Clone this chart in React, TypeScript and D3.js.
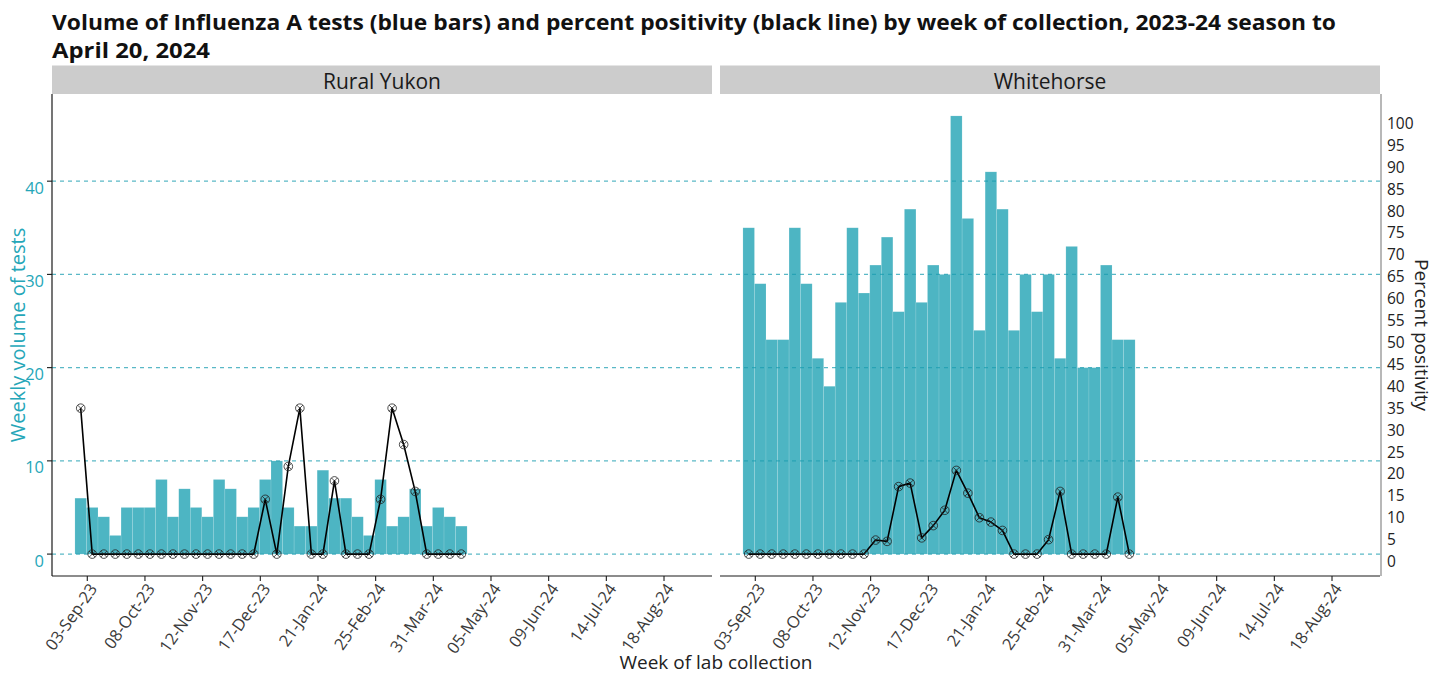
import React from "react";
import * as d3 from "d3";

// ---------- data ----------
const WEEKS = [
  "2023-08-30", "2023-09-06", "2023-09-13", "2023-09-20", "2023-09-27",
  "2023-10-04", "2023-10-11", "2023-10-18", "2023-10-25", "2023-11-01",
  "2023-11-08", "2023-11-15", "2023-11-22", "2023-11-29", "2023-12-06",
  "2023-12-13", "2023-12-20", "2023-12-27", "2024-01-03", "2024-01-10",
  "2024-01-17", "2024-01-24", "2024-01-31", "2024-02-07", "2024-02-14",
  "2024-02-21", "2024-02-28", "2024-03-06", "2024-03-13", "2024-03-20",
  "2024-03-27", "2024-04-03", "2024-04-10", "2024-04-17",
];

const RURAL_TESTS = [6, 5, 4, 2, 5, 5, 5, 8, 4, 7, 5, 4, 8, 7, 4, 5, 8, 10, 5, 3, 3, 9, 6, 6, 4, 2, 8, 3, 4, 7, 3, 5, 4, 3];
const RURAL_PCT = [33.3, 0, 0, 0, 0, 0, 0, 0, 0, 0, 0, 0, 0, 0, 0, 0, 12.5, 0, 20, 33.3, 0, 0, 16.7, 0, 0, 0, 12.5, 33.3, 25, 14.3, 0, 0, 0, 0];

const WH_TESTS = [35, 29, 23, 23, 35, 29, 21, 18, 27, 35, 28, 31, 34, 26, 37, 27, 31, 30, 47, 36, 24, 41, 37, 24, 30, 26, 30, 21, 33, 20, 20, 31, 23, 23];
const WH_PCT = [0, 0, 0, 0, 0, 0, 0, 0, 0, 0, 0, 3.2, 2.9, 15.4, 16.2, 3.7, 6.5, 10, 19.1, 13.9, 8.3, 7.3, 5.4, 0, 0, 0, 3.3, 14.3, 0, 0, 0, 0, 13.0, 0];

const PANELS = ["Rural Yukon", "Whitehorse"];
const X_TICKS = ["2023-09-03", "2023-10-08", "2023-11-12", "2023-12-17", "2024-01-21", "2024-02-25", "2024-03-31", "2024-05-05", "2024-06-09", "2024-07-14", "2024-08-18"];
const COUNT_TICKS = [0, 10, 20, 30, 40];
const PCT_TICKS = [0, 5, 10, 15, 20, 25, 30, 35, 40, 45, 50, 55, 60, 65, 70, 75, 80, 85, 90, 95, 100];
const MAX_COUNT = 47; // secondary axis: 100% maps to this count

const TITLE1 = "Volume of Influenza A tests (blue bars) and percent positivity (black line) by week of collection, 2023-24 season to";
const TITLE2 = "April 20, 2024";

// ---------- layout ----------
const W = 1447, H = 675;
const PANEL_X = [52, 720];
const PANEL_W = 660;
const TOP = 94, BOTTOM = 576;
const STRIP_TOP = 65.5;

const FONT = "'Open Sans', 'Noto Sans', sans-serif";
const BAR = "#4db5c3";
const TEAL = "#1a9db0";
const TEAL_TEXT = "#25a6b8";

const parse = d3.utcParse("%Y-%m-%d");
const fmt = d3.utcFormat("%d-%b-%y");
const DAY = 86400000;

const App: React.FC = () => {
  const weekDates = WEEKS.map((w) => parse(w)!);
  const tickDates = X_TICKS.map((t) => parse(t)!);
  const dom: [Date, Date] = [new Date(Date.UTC(2023, 7, 12, 14)), new Date(Date.UTC(2024, 8, 16, 3))];
  const y = d3.scaleLinear().domain([-0.05 * MAX_COUNT, MAX_COUNT * 1.05]).range([BOTTOM, TOP]);
  const pctToCount = (p: number) => (p * MAX_COUNT) / 100;

  const series = [
    { tests: RURAL_TESTS, pct: RURAL_PCT },
    { tests: WH_TESTS, pct: WH_PCT },
  ];

  return (
    <svg width={W} height={H} style={{ display: "block", position: "absolute", left: 0, top: 0 }}>
      <rect width={W} height={H} fill="#fff" />
      <text x={52} y={29.5} fontFamily={FONT} fontWeight={700} fontSize={21.5} fill="#111" textLength={1284} lengthAdjust="spacingAndGlyphs">{TITLE1}</text>
      <text x={52} y={58} fontFamily={FONT} fontWeight={700} fontSize={21.5} fill="#111" textLength={158} lengthAdjust="spacingAndGlyphs">{TITLE2}</text>

      {PANELS.map((name, pi) => {
        const x0 = PANEL_X[pi];
        const x = d3.scaleUtc().domain(dom).range([x0, x0 + PANEL_W]);
        const s = series[pi];
        const line = d3
          .line<number>()
          .x((_, i) => x(weekDates[i]))
          .y((p) => y(pctToCount(p)));
        return (
          <g key={name}>
            {/* strip */}
            <rect x={x0} y={STRIP_TOP} width={PANEL_W} height={TOP - STRIP_TOP} fill="#cccccc" />
            <text x={x0 + PANEL_W / 2} y={88.5} textAnchor="middle" fontFamily={FONT} fontSize={21} fill="#1a1a1a">{name}</text>
            {/* bars */}
            {s.tests.map((v, i) => {
              const xa = x(new Date(weekDates[i].getTime() - 3.5 * DAY));
              const xb = x(new Date(weekDates[i].getTime() + 3.5 * DAY));
              return (
                <rect key={i} x={xa} y={y(v)} width={xb - xa} height={y(0) - y(v)} fill={BAR} stroke="#ffffff" strokeOpacity={0.2} strokeWidth={0.6} />
              );
            })}
            {/* gridlines on top */}
            {COUNT_TICKS.map((c) => (
              <line key={c} x1={x0} x2={x0 + PANEL_W} y1={y(c)} y2={y(c)} stroke={TEAL} strokeOpacity={0.72} strokeWidth={1.1} strokeDasharray="4,4" />
            ))}
            {/* positivity line */}
            <path d={line(s.pct) || ""} fill="none" stroke="#000" strokeWidth={1.6} strokeLinejoin="round" />
            {s.pct.map((p, i) => {
              const cx = x(weekDates[i]);
              const cy = y(pctToCount(p));
              const r = 4.3;
              const d = r * 0.707;
              return (
                <g key={i} stroke="#222" strokeOpacity={0.8} strokeWidth={1} fill="none">
                  <circle cx={cx} cy={cy} r={r} />
                  <line x1={cx - d} y1={cy - d} x2={cx + d} y2={cy + d} />
                  <line x1={cx - d} y1={cy + d} x2={cx + d} y2={cy - d} />
                </g>
              );
            })}
            {/* x axis */}
            <line x1={x0} x2={x0 + PANEL_W} y1={BOTTOM} y2={BOTTOM} stroke="#1a1a1a" strokeWidth={1.2} />
            {tickDates.map((t, i) => {
              const tx = x(t);
              return (
                <g key={i}>
                  <line x1={tx} x2={tx} y1={BOTTOM} y2={BOTTOM + 5} stroke="#1a1a1a" strokeWidth={1.1} />
                  <text transform={`translate(${tx + 1},${BOTTOM + 6}) rotate(-55)`} dy="0.72em" textAnchor="end" fontFamily={FONT} fontSize={16.5} fill="#3a3a3a">{fmt(t)}</text>
                </g>
              );
            })}
          </g>
        );
      })}

      {/* left axis */}
      <line x1={52} x2={52} y1={TOP} y2={BOTTOM} stroke="#1a1a1a" strokeWidth={1.2} />
      {COUNT_TICKS.map((c) => (
        <g key={c}>
          <line x1={47} x2={52} y1={y(c)} y2={y(c)} stroke="#1a1a1a" strokeWidth={1.1} />
          <text x={44} y={y(c) + 12.5} textAnchor="end" fontFamily={FONT} fontSize={16.5} fill={TEAL_TEXT}>{c}</text>
        </g>
      ))}
      <text transform={`translate(25,335) rotate(-90)`} textAnchor="middle" fontFamily={FONT} fontSize={20} fill={TEAL_TEXT}>Weekly volume of tests</text>

      {/* right axis */}
      <line x1={1381} x2={1381} y1={TOP} y2={BOTTOM} stroke="#9a9a9a" strokeWidth={1.4} />
      {PCT_TICKS.map((p) => (
        <text key={p} x={1387} y={y(pctToCount(p)) + 13} fontFamily={FONT} fontSize={15.5} fill="#222">{p}</text>
      ))}
      <text transform={`translate(1415,335) rotate(90)`} textAnchor="middle" fontFamily={FONT} fontSize={19} fill="#222">Percent positivity</text>

      {/* x title */}
      <text x={716} y={669} textAnchor="middle" fontFamily={FONT} fontSize={19} fill="#222">Week of lab collection</text>
    </svg>
  );
};

export default App;
